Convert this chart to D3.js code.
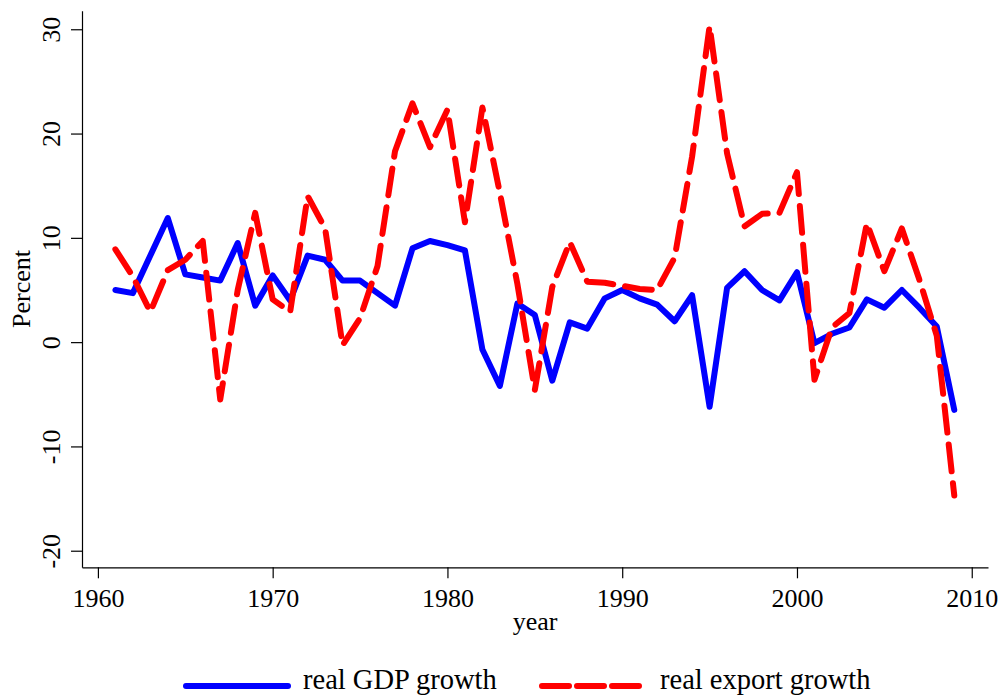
<!DOCTYPE html>
<html>
<head>
<meta charset="utf-8">
<script src="https://cdn.jsdelivr.net/npm/d3@7"></script>
<style>
  body { margin: 0; background: #fff; }
  svg { font-family: "Liberation Serif", "Times New Roman", serif; }
</style>
</head>
<body>
<div id="container"></div>
<script>
// data
var years = d3.range(1961, 2010);
var gdpGrowth = [5.0, 4.7, 8.3, 11.9, 6.5, 6.2, 5.9, 9.5, 3.5, 6.4,
                 4.0, 8.3, 7.9, 5.9, 5.9, 4.7, 3.5, 9.0, 9.7, 9.3,
                 8.8, -0.7, -4.2, 3.7, 2.6, -3.7, 1.9, 1.3, 4.2, 5.0,
                 4.2, 3.6, 2.0, 4.5, -6.2, 5.2, 6.8, 5.0, 4.0, 6.7,
                 -0.1, 0.8, 1.4, 4.1, 3.3, 5.0, 3.3, 1.5, -6.5];
var exportGrowth = [8.9, 6.3, 2.9, 6.9, 7.9, 9.7, -5.5, 5.0, 12.4, 4.1,
                    2.9, 14.0, 10.9, -0.3, 2.3, 7.3, 18.3, 22.9, 18.7, 22.3,
                    11.5, 22.5, 14.3, 5.6, -4.6, 5.3, 9.6, 5.8, 5.7, 5.4,
                    5.1, 5.0, 8.1, 17.8, 30.3, 18.1, 11.1, 12.3, 12.4, 16.3,
                    -3.6, 1.4, 2.8, 11.4, 6.8, 10.9, 6.0, 0.6, -14.7];
var xTicks = [1960, 1970, 1980, 1990, 2000, 2010];
var yTicks = [-20, -10, 0, 10, 20, 30];
var seriesNames = ["real GDP growth", "real export growth"];

var width = 1003, height = 696;
var plotLeft = 82, plotRight = 988, plotTop = 10.7, plotBottom = 567.3;
var fontSize = 26;

var svg = d3.select("#container").append("svg")
    .attr("width", width)
    .attr("height", height);

var x = d3.scaleLinear().domain([1959.09, 2010.93]).range([plotLeft, plotRight]);
var y = d3.scaleLinear().domain([-21.59, 31.78]).range([plotBottom, plotTop]);

// axes
var xAxis = svg.append("g")
    .attr("transform", "translate(0," + plotBottom + ")")
    .call(d3.axisBottom(x).tickValues(xTicks).tickFormat(d => String(d))
        .tickSize(11).tickSizeOuter(0));
xAxis.selectAll("text")
    .attr("y", 0).attr("dy", 0)
    .attr("transform", "translate(0,40)")
    .style("font-size", fontSize + "px")
    .style("font-family", "Liberation Serif")
    .attr("fill", "#000");

var yAxis = svg.append("g")
    .attr("transform", "translate(" + plotLeft + ",0)")
    .call(d3.axisLeft(y).tickValues(yTicks).tickFormat(d => String(d))
        .tickSize(11).tickSizeOuter(0));
yAxis.selectAll("text")
    .attr("x", 0).attr("dy", 0)
    .attr("text-anchor", "middle")
    .attr("transform", "translate(-22,0) rotate(-90)")
    .style("font-size", fontSize + "px")
    .style("font-family", "Liberation Serif")
    .attr("fill", "#000");

svg.selectAll(".domain, .tick line").attr("stroke", "#000").attr("stroke-width", 1.2);

// axis titles
svg.append("text")
    .attr("transform", "translate(30," + ((plotTop + plotBottom) / 2) + ") rotate(-90)")
    .attr("text-anchor", "middle")
    .style("font-size", fontSize + "px")
    .text("Percent");

svg.append("text")
    .attr("x", (plotLeft + plotRight) / 2)
    .attr("y", 630)
    .attr("text-anchor", "middle")
    .style("font-size", fontSize + "px")
    .text("year");

// lines
var line = d3.line()
    .x(function(d) { return x(d[0]); })
    .y(function(d) { return y(d[1]); });

var gdpPts = years.map(function(yr, i) { return [yr, gdpGrowth[i]]; });
var expPts = years.map(function(yr, i) { return [yr, exportGrowth[i]]; });

svg.append("path")
    .datum(gdpPts)
    .attr("d", line)
    .attr("fill", "none")
    .attr("stroke", "#0000ff")
    .attr("stroke-width", 6)
    .attr("stroke-linejoin", "round")
    .attr("stroke-linecap", "round");

svg.append("path")
    .datum(expPts)
    .attr("d", line)
    .attr("fill", "none")
    .attr("stroke", "#ff0000")
    .attr("stroke-width", 6)
    .attr("stroke-dasharray", "27 12")
    .attr("stroke-linejoin", "round")
    .attr("stroke-linecap", "round");

// legend
var legend = [
    {name: seriesNames[0], color: "#0000ff", dash: null, x0: 186, x1: 288, tx: 303},
    {name: seriesNames[1], color: "#ff0000", dash: "27 8", x0: 542, x1: 645, tx: 660}
];
var lg = svg.selectAll(".legend")
    .data(legend)
    .enter()
    .append("g")
    .attr("class", "legend");
lg.append("line")
    .attr("x1", d => d.x0).attr("x2", d => d.x1)
    .attr("y1", 686).attr("y2", 686)
    .attr("stroke", d => d.color)
    .attr("stroke-width", 6)
    .attr("stroke-linecap", "round")
    .attr("stroke-dasharray", d => d.dash);
lg.append("text")
    .attr("x", d => d.tx)
    .attr("y", 689)
    .style("font-size", "28.5px")
    .text(d => d.name);
</script>
</body>
</html>
